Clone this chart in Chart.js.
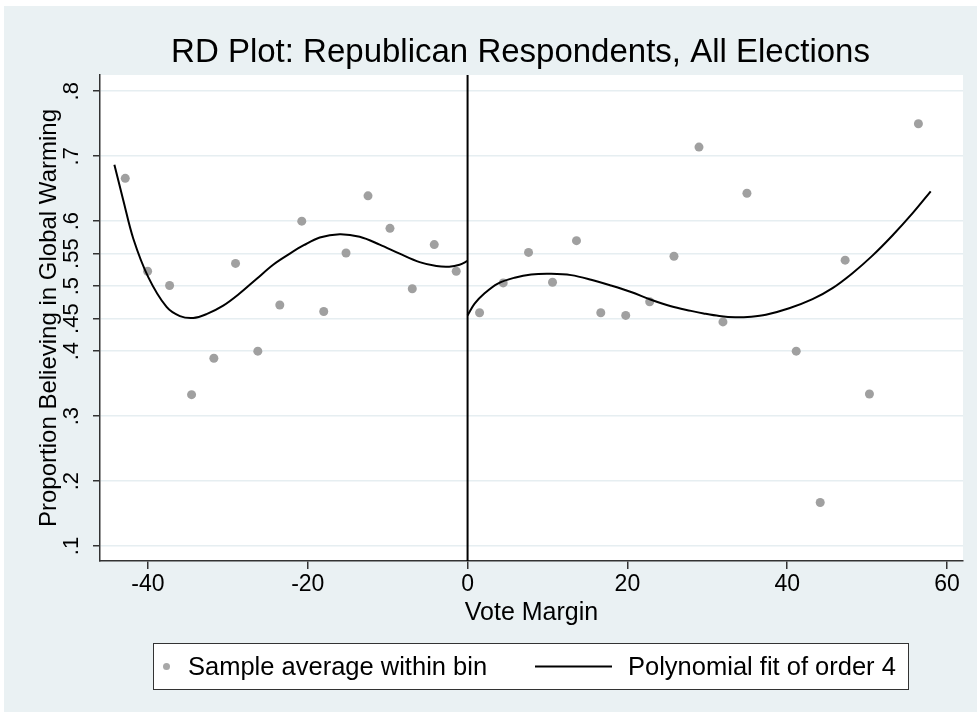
<!DOCTYPE html>
<html>
<head>
<meta charset="utf-8">
<script src="https://cdn.jsdelivr.net/npm/chart.js@4"></script>
<style>
  html, body { margin: 0; padding: 0; background: #fff; }
  #wrap { width: 977px; height: 717px; position: relative; }
</style>
</head>
<body>
<div id="wrap"><canvas id="rdChart" width="977" height="717"></canvas></div>
<script>
// tick labels
const xTicks = [-40, -20, 0, 20, 40, 60];
const yTicks = [0.1, 0.2, 0.3, 0.4, 0.45, 0.5, 0.55, 0.6, 0.7, 0.8];
const cutoff = 0;

// bin averages
const binX = [-42.84, -40.04, -37.29, -34.54, -31.75, -29.04, -26.25, -23.5, -20.75, -18.0,
              -15.21, -12.46, -9.71, -6.92, -4.17, -1.42,
              1.5, 4.46, 7.63, 10.63, 13.63, 16.67, 19.79, 22.79, 25.83, 28.96,
              31.96, 34.96, 41.13, 44.13, 47.25, 50.29, 56.42];
const binY = [0.666, 0.523, 0.501, 0.333, 0.389, 0.535, 0.400, 0.471, 0.600, 0.461,
              0.551, 0.639, 0.589, 0.496, 0.564, 0.523,
              0.459, 0.505, 0.552, 0.506, 0.570, 0.459, 0.455, 0.476, 0.546, 0.714,
              0.445, 0.643, 0.400, 0.167, 0.540, 0.334, 0.750];

// polynomial fit, left of cutoff
const fitLeftX = [-44.2, -43.08, -41.83, -39.96, -37.67, -36.0, -34.33, -32.67, -30.58, -28.5,
                  -26.42, -24.33, -22.25, -20.5, -18.5, -16.0, -13.5, -11.0, -8.5, -6.0,
                  -3.9, -2.3, -1.0, 0];
const fitLeftY = [0.687, 0.632, 0.573, 0.514, 0.468, 0.454, 0.451, 0.457, 0.470, 0.489,
                  0.511, 0.533, 0.550, 0.563, 0.575, 0.580, 0.576, 0.564, 0.550, 0.537,
                  0.531, 0.530, 0.533, 0.539];

// polynomial fit, right of cutoff
const fitRightX = [0, 0.88, 2.13, 3.79, 5.88, 7.96, 10.46, 12.96, 15.46, 17.96,
                   20.46, 22.96, 25.46, 27.96, 29.54, 31.5, 33.5, 35.5, 37.33, 40.25,
                   43.17, 45.67, 48.17, 50.67, 53.17, 55.67, 57.96];
const fitRightY = [0.455, 0.473, 0.489, 0.504, 0.513, 0.518, 0.519, 0.517, 0.510, 0.501,
                   0.491, 0.479, 0.469, 0.462, 0.458, 0.454, 0.452, 0.453, 0.456, 0.466,
                   0.480, 0.497, 0.520, 0.547, 0.578, 0.612, 0.646];

const binLabel = 'Sample average within bin';
const fitLabel = 'Polynomial fit of order 4';

const FONT = '"Liberation Sans", Arial, sans-serif';
const zip = (xs, ys) => xs.map((x, i) => ({ x: x, y: ys[i] }));

// background, plot region, cutoff line, rotated y labels, title, legend
const stataLook = {
    id: 'stataLook',
    beforeDraw(chart) {
        const ctx = chart.ctx, a = chart.chartArea;
        ctx.save();
        ctx.fillStyle = '#ffffff';
        ctx.fillRect(0, 0, chart.width, chart.height);
        ctx.fillStyle = '#eaf1f3';
        ctx.fillRect(4, 6, chart.width - 4, chart.height - 11);
        ctx.fillStyle = '#ffffff';
        ctx.fillRect(a.left, a.top, a.right - a.left, a.bottom - a.top);
        ctx.restore();
    },
    afterDatasetsDraw(chart) {
        const ctx = chart.ctx, a = chart.chartArea;
        const px = chart.scales.x.getPixelForValue(cutoff);
        ctx.save();
        ctx.strokeStyle = '#000';
        ctx.lineWidth = 2;
        ctx.beginPath();
        ctx.moveTo(px, a.top);
        ctx.lineTo(px, a.bottom);
        ctx.stroke();
        ctx.restore();
    },
    afterDraw(chart) {
        const ctx = chart.ctx, a = chart.chartArea, ys = chart.scales.y;
        ctx.save();
        // y tick labels, vertical like Stata
        ctx.fillStyle = '#000';
        ctx.font = '22px ' + FONT;
        ctx.textAlign = 'center';
        ctx.textBaseline = 'middle';
        yTicks.forEach(v => {
            const py = ys.getPixelForValue(v);
            ctx.save();
            ctx.translate(a.left - 28, py);
            ctx.rotate(-Math.PI / 2);
            ctx.fillText(String(v).replace(/^0/, ''), 0, 0);
            ctx.restore();
        });
        // title
        ctx.font = '33px ' + FONT;
        ctx.textBaseline = 'alphabetic';
        ctx.fillText('RD Plot: Republican Respondents, All Elections', (a.left + a.right) / 2 - 11, 62);
        // legend box
        const lx = 153.5, ly = 643.5, lw = 755, lh = 46, cy = ly + lh / 2;
        ctx.fillStyle = '#ffffff';
        ctx.fillRect(lx, ly, lw, lh);
        ctx.strokeStyle = '#333';
        ctx.lineWidth = 1;
        ctx.strokeRect(lx, ly, lw, lh);
        ctx.fillStyle = '#a8a8a8';
        ctx.beginPath();
        ctx.arc(lx + 13, cy, 3.5, 0, Math.PI * 2);
        ctx.fill();
        ctx.strokeStyle = '#000';
        ctx.lineWidth = 2;
        ctx.beginPath();
        ctx.moveTo(535, cy);
        ctx.lineTo(612, cy);
        ctx.stroke();
        ctx.fillStyle = '#000';
        ctx.font = '25.5px ' + FONT;
        ctx.textAlign = 'left';
        ctx.textBaseline = 'middle';
        ctx.fillText(chart.data.datasets[2].label, 188, cy + 1);
        ctx.fillText(chart.data.datasets[0].label, 628, cy + 1);
        ctx.restore();
    }
};

let ctx = document.getElementById('rdChart').getContext('2d');
let rdChart = new Chart(ctx, {
    type: 'scatter',
    data: {
        datasets: [{
            label: fitLabel,
            data: zip(fitLeftX, fitLeftY),
            showLine: true,
            borderColor: '#000',
            borderWidth: 2,
            pointRadius: 0,
            tension: 0.35
        }, {
            label: fitLabel + ' (right)',
            data: zip(fitRightX, fitRightY),
            showLine: true,
            borderColor: '#000',
            borderWidth: 2,
            pointRadius: 0,
            tension: 0.35
        }, {
            label: binLabel,
            data: zip(binX, binY),
            backgroundColor: '#a0a0a0',
            borderWidth: 0,
            pointRadius: 4.5
        }]
    },
    options: {
        responsive: false,
        animation: false,
        layout: { padding: { top: 75, right: 14, bottom: 86, left: 0 } },
        plugins: {
            legend: { display: false },
            title: { display: false },
            tooltip: { enabled: false }
        },
        scales: {
            x: {
                type: 'linear',
                min: -46,
                max: 62,
                afterBuildTicks: s => { s.ticks = xTicks.map(v => ({ value: v })); },
                afterFit: s => { s.height = 70; },
                ticks: { color: '#000', font: { size: 23, family: FONT }, padding: 2, maxRotation: 0 },
                grid: { drawOnChartArea: false, tickLength: 8, tickColor: '#333', lineWidth: 1.5 },
                border: { color: '#333', width: 1.5 },
                title: {
                    display: true, text: 'Vote Margin', color: '#000',
                    font: { size: 25, family: FONT }, padding: { top: 0, bottom: 3 }
                }
            },
            y: {
                type: 'linear',
                min: 0.077,
                max: 0.825,
                afterBuildTicks: s => { s.ticks = yTicks.map(v => ({ value: v })); },
                afterFit: s => { s.width = 100; },
                ticks: { display: false },
                grid: { color: '#e6eef1', lineWidth: 1.5, tickLength: 7, tickColor: '#333' },
                border: { color: '#333', width: 1.5 },
                title: {
                    display: true, text: 'Proportion Believing in Global Warming', color: '#000',
                    font: { size: 24, family: FONT }, padding: { top: 35, bottom: 0 }
                }
            }
        }
    },
    plugins: [stataLook]
});
</script>
</body>
</html>
